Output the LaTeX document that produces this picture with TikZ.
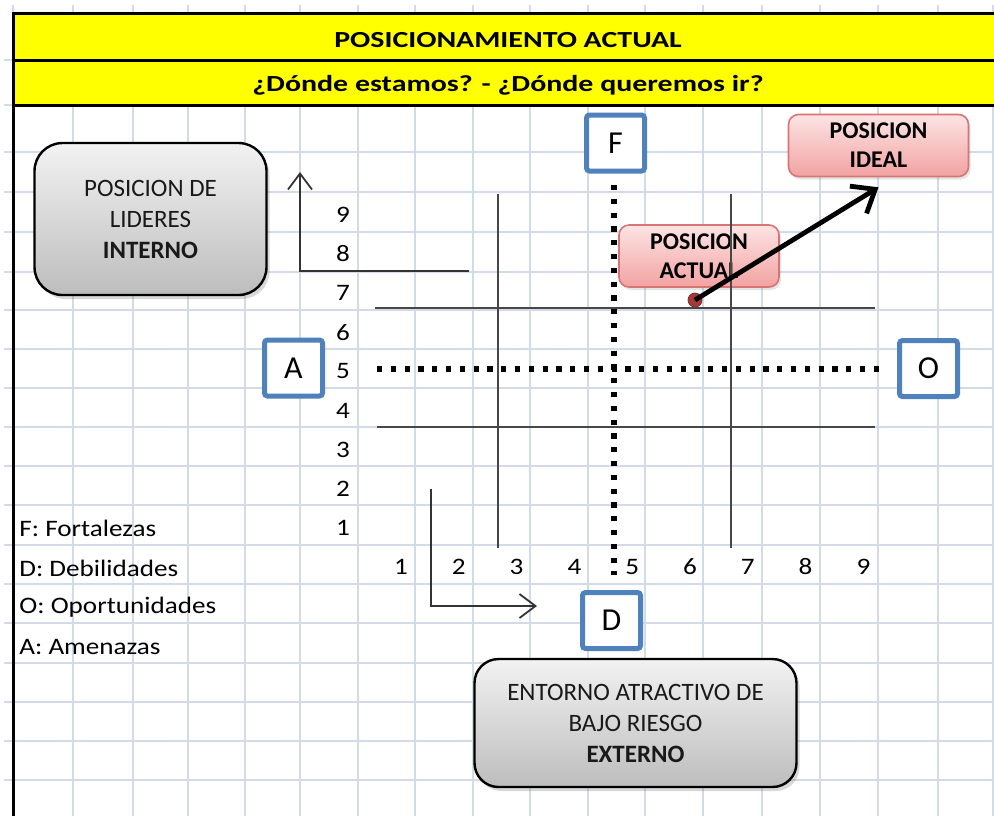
\documentclass[tikz,border=0pt]{standalone}
\usepackage{fontspec}
\setmainfont{Carlito}
\newfontfamily\cellfont[FakeStretch=1.15]{Carlito}
\newfontfamily\titlefont[FakeStretch=1.3]{Carlito}
\usetikzlibrary{arrows.meta,shadows}
\definecolor{griglia}{HTML}{D3DAE8}
\definecolor{bordoblu}{HTML}{4F81BD}
\definecolor{giallo}{HTML}{FFFF00}
\definecolor{grigio1}{HTML}{F2F2F2}
\definecolor{grigio2}{HTML}{BDBDBD}
\definecolor{rosa1}{HTML}{FDE4E4}
\definecolor{rosa2}{HTML}{F2A2A2}
\definecolor{bordorosa}{HTML}{D87474}
\definecolor{puntorosso}{HTML}{A33A3A}
\begin{document}
\begin{tikzpicture}[x=0.5pt,y=-0.5pt,
    cella/.style={font=\cellfont\fontsize{11.8}{13}\selectfont, inner sep=0pt},
    titolo/.style={font=\titlefont\bfseries\fontsize{11.5}{13}\selectfont},
    grigio/.style={draw=black, line width=1.2pt, top color=grigio1, bottom color=grigio2,
        drop shadow={opacity=0.3, shadow xshift=1.5pt, shadow yshift=-2pt},
        align=center, text=black!90, font=\fontsize{12.5}{15.5}\selectfont},
    rosa/.style={draw=bordorosa, line width=0.8pt, rounded corners=5pt, top color=rosa1, bottom color=rosa2,
        drop shadow={opacity=0.2, shadow xshift=1pt, shadow yshift=-1.5pt},
        align=center, font=\bfseries\fontsize{12}{14.5}\selectfont, minimum height=31pt},
    lettera/.style={draw=bordoblu, line width=2.5pt, fill=white, rounded corners=1.5pt,
        minimum width=29pt, minimum height=28pt, font=\fontsize{16}{18}\selectfont},
    linea/.style={line width=1pt, color=black!72},
    puntini/.style={line width=2.6pt, dash pattern=on 2.6pt off 4.3pt},
    asse/.style={line width=0.9pt, color=black!80, -{Straight Barb[length=8pt,width=12pt]}}]
    %disegna la matrice FODA con la posizione attuale e quella ideale
    \useasboundingbox (0,0) rectangle (994,816);
    \fill[white] (0,0) rectangle (994,816);

    \foreach \x in {13,73,133,188,245,300,358,415,473,530,588,645,703,762,820,878,938,993}
        \draw[griglia, line width=0.8pt] (\x,5) -- (\x,816);
    \foreach \y in {60,105,152,192,232,272,310,349,388,427,466,505,545,584,623,663,702,741,780}
        \draw[griglia, line width=0.8pt] (4,\y) -- (994,\y);

    \fill[giallo] (13,13) rectangle (994,105);
    \draw[line width=1.5pt] (994,13) -- (13,13) -- (13,816);
    \draw[line width=1.5pt] (13,60) -- (994,60);
    \draw[line width=1.5pt] (13,105) -- (994,105);
    \node[titolo] (titolo1) at (508,40) {POSICIONAMIENTO ACTUAL};
    \node[titolo] (titolo2) at (508,85) {¿Dónde estamos? - ¿Dónde queremos ir?};

    \node[grigio, rounded corners=14pt, minimum width=116pt, minimum height=76pt] (lideres) at (150.5,219)
        {POSICION DE\\LIDERES\\\textbf{INTERNO}};
    \node[grigio, rounded corners=12pt, minimum width=161pt, minimum height=64pt] (entorno) at (635.5,723)
        {ENTORNO ATRACTIVO DE\\BAJO RIESGO\\\textbf{EXTERNO}};

    \node[rosa, minimum width=90pt] (ideal) at (878.5,145.5) {POSICION\\IDEAL};
    \node[rosa, minimum width=80pt] (actual) at (699,256) {POSICION\\ACTUAL};

    \draw[linea] (375,308) -- (875,308);
    \draw[linea] (377,427) -- (875,427);
    \draw[linea] (498,194) -- (498,548);
    \draw[linea] (731,194) -- (731,548);
    \draw[puntini] (377,369) -- (879,369);
    \draw[puntini] (614,185) -- (614,575);

    \coordinate (fineY) at (469,271);
    \coordinate (origineY) at (300,271);
    \coordinate (cimaY) at (300,172);
    \draw[asse] (fineY) -- (origineY) -- (cimaY);
    \coordinate (inizioX) at (431,489);
    \coordinate (origineX) at (431,606);
    \coordinate (puntaX) at (537,606);
    \draw[asse] (inizioX) -- (origineX) -- (puntaX);

    \foreach \n in {1,...,9} {
        \node[cella] (y\n) at (343,{528-(\n-1)*39.15}) {\n};
        \node[cella] (x\n) at ({401+(\n-1)*57.8},567) {\n};
    }

    \node[cella, anchor=west] (fortalezas) at (19,528) {F: Fortalezas};
    \node[cella, anchor=west] (debilidades) at (19,568) {D: Debilidades};
    \node[cella, anchor=west] (oportunidades) at (19,607) {O: Oportunidades};
    \node[cella, anchor=west] (amenazas) at (19,647) {A: Amenazas};

    \node[lettera] (A) at (293.5,368) {A};
    \node[lettera] (F) at (615.5,143) {F};
    \node[lettera] (O) at (928.5,368.5) {O};
    \node[lettera] (D) at (611.5,620.5) {D};

    \node[circle, fill=puntorosso, draw=puntorosso!80!black, line width=0.4pt, minimum size=7pt, inner sep=0pt] (punto) at (695,300) {};
    \draw[line width=2.4pt, -{Straight Barb[length=10pt,width=16pt]}] (punto.center) -- ([yshift=-5pt]ideal.south);

\end{tikzpicture}
\end{document}
